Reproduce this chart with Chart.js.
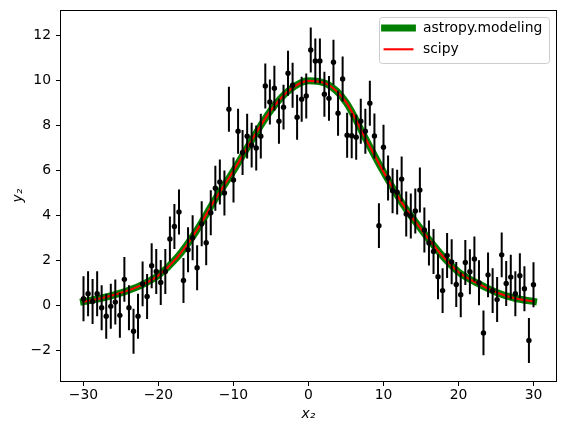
<!DOCTYPE html>
<html lang="en">
<head>
    <meta charset="UTF-8">
    <title>Gaussian fit: astropy.modeling vs scipy</title>
    <script src="https://cdn.jsdelivr.net/npm/chart.js"></script>
    <style>
        body {
            margin: 0;
            background-color: white;
        }
    </style>
</head>
<body>
    <canvas id="fitChart" width="566" height="432"></canvas>

    <script>
        // measured data points (x2, y2), error bar half-height is the same for all
        const xData = [
            -30.00, -29.39, -28.79, -28.18, -27.58, -26.97, -26.36, -25.76, -25.15, -24.55,
            -23.94, -23.33, -22.73, -22.12, -21.52, -20.91, -20.30, -19.70, -19.09, -18.48,
            -17.88, -17.27, -16.67, -16.06, -15.45, -14.85, -14.24, -13.64, -13.03, -12.42,
            -11.82, -11.21, -10.61, -10.00, -9.39, -8.79, -8.18, -7.58, -6.97, -6.36,
            -5.76, -5.15, -4.55, -3.94, -3.33, -2.73, -2.12, -1.52, -0.91, -0.30,
            0.30, 0.91, 1.52, 2.12, 2.73, 3.33, 3.94, 4.55, 5.15, 5.76,
            6.36, 6.97, 7.58, 8.18, 8.79, 9.39, 10.00, 10.61, 11.21, 11.82,
            12.42, 13.03, 13.64, 14.24, 14.85, 15.45, 16.06, 16.67, 17.27, 17.88,
            18.48, 19.09, 19.70, 20.30, 20.91, 21.52, 22.12, 22.73, 23.33, 23.94,
            24.55, 25.15, 25.76, 26.36, 26.97, 27.58, 28.18, 28.79, 29.39, 30.00
        ];
        const yData = [
            0.31, 0.53, 0.19, 0.53, -0.09, -0.47, -0.03, 0.16, -0.43, 1.17,
            -0.09, -1.14, -0.47, 0.97, 0.41, 1.78, 1.52, 1.03, 1.52, 2.97,
            3.52, 4.17, 1.12, 2.49, 3.02, 1.69, 3.64, 2.80, 4.13, 5.22,
            5.50, 5.01, 8.74, 5.59, 7.76, 6.81, 7.54, 7.14, 7.01, 7.54,
            9.77, 9.06, 9.67, 8.20, 8.83, 10.34, 9.80, 8.38, 9.18, 9.33,
            11.37, 10.88, 10.88, 9.40, 9.22, 10.83, 8.56, 10.08, 7.58, 7.56,
            7.49, 8.20, 7.76, 9.00, 7.55, 3.56, 7.05, 5.68, 5.11, 5.05,
            5.63, 4.08, 3.99, 4.21, 5.14, 3.37, 2.79, 2.41, 1.29, 0.67,
            2.23, 1.95, 0.94, 0.49, 1.92, 1.51, 2.08, 1.02, -1.21, 1.37,
            0.67, 0.27, 2.26, 0.99, 1.27, 0.53, 1.33, 0.75, -1.55, 0.93
        ];
        const yErr = 1.0;

        // fitted curves
        const fitX = [-30, -27.5, -25, -22.5, -20, -17.5, -15, -12.5, -10, -7.5, -5, -2.5, 0,
                      2.5, 5, 7.5, 10, 12.5, 15, 17.5, 20, 22.5, 25, 27.5, 30];
        const astropyY = [0.18, 0.34, 0.57, 0.88, 1.35, 2.15, 3.30, 4.70, 6.00, 7.40, 8.70, 9.60, 10.00,
                          9.85, 9.05, 7.50, 5.95, 4.55, 3.40, 2.35, 1.50, 1.00, 0.60, 0.33, 0.19];
        const scipyY = [0.18, 0.34, 0.57, 0.88, 1.35, 2.15, 3.30, 4.70, 6.00, 7.40, 8.70, 9.60, 10.00,
                        9.85, 9.05, 7.50, 5.95, 4.55, 3.40, 2.35, 1.50, 1.00, 0.60, 0.33, 0.19];

        const xTicks = [-30, -20, -10, 0, 10, 20, 30];
        const yTicks = [-2, 0, 2, 4, 6, 8, 10, 12];

        const legendItems = [
            { label: 'astropy.modeling', color: 'green', width: 7 },
            { label: 'scipy', color: 'red', width: 2.1 }
        ];

        const toPoints = (xs, ys) => xs.map((x, i) => ({ x: x, y: ys[i] }));
        const minus = v => String(v).replace('-', '\u2212');

        Chart.defaults.font.family = 'DejaVu Sans';
        Chart.defaults.font.size = 13.9;
        Chart.defaults.color = '#000';

        const errorBars = {
            id: 'errorBars',
            afterDatasetsDraw(chart) {
                const ctx = chart.ctx;
                const xs = chart.scales.x;
                const ys = chart.scales.y;
                const area = chart.chartArea;
                ctx.save();
                ctx.beginPath();
                ctx.rect(area.left, area.top, area.right - area.left, area.bottom - area.top);
                ctx.clip();
                ctx.strokeStyle = '#000';
                ctx.lineWidth = 2;
                ctx.beginPath();
                xData.forEach((x, i) => {
                    const px = xs.getPixelForValue(x);
                    ctx.moveTo(px, ys.getPixelForValue(yData[i] - yErr));
                    ctx.lineTo(px, ys.getPixelForValue(yData[i] + yErr));
                });
                ctx.stroke();
                ctx.restore();
            }
        };

        const frameAndLegend = {
            id: 'frameAndLegend',
            afterDraw(chart) {
                const ctx = chart.ctx;
                const area = chart.chartArea;
                ctx.save();
                ctx.strokeStyle = '#000';
                ctx.lineWidth = 1;
                ctx.strokeRect(area.left - 0.5, area.top + 0.5, area.right - area.left + 1, area.bottom - area.top);

                // legend box, upper right like matplotlib
                const boxW = 170, boxH = 46;
                const bx = area.right - 7 - boxW;
                const by = area.top + 7;
                ctx.beginPath();
                ctx.roundRect(bx + 0.5, by + 0.5, boxW, boxH, 3);
                ctx.fillStyle = 'rgba(255,255,255,0.8)';
                ctx.fill();
                ctx.strokeStyle = '#cccccc';
                ctx.stroke();

                ctx.font = '13.9px "DejaVu Sans"';
                ctx.textBaseline = 'middle';
                ctx.lineCap = 'square';
                legendItems.forEach((item, i) => {
                    const cy = by + 11 + i * 21.3;
                    ctx.beginPath();
                    ctx.strokeStyle = item.color;
                    ctx.lineWidth = item.width;
                    ctx.moveTo(bx + 5.6, cy);
                    ctx.lineTo(bx + 33.4, cy);
                    ctx.stroke();
                    ctx.fillStyle = '#000';
                    ctx.fillText(item.label, bx + 44, cy);
                });
                ctx.restore();
            }
        };

        new Chart(document.getElementById('fitChart'), {
            type: 'scatter',
            data: {
                datasets: [
                    {
                        label: 'data',
                        data: toPoints(xData, yData),
                        backgroundColor: '#000',
                        borderWidth: 0,
                        pointRadius: 2.7,
                        order: 0
                    },
                    {
                        label: 'scipy',
                        data: toPoints(fitX, scipyY),
                        showLine: true,
                        borderColor: 'red',
                        borderWidth: 2.1,
                        borderCapStyle: 'square',
                        cubicInterpolationMode: 'monotone',
                        pointRadius: 0,
                        order: 1
                    },
                    {
                        label: 'astropy.modeling',
                        data: toPoints(fitX, astropyY),
                        showLine: true,
                        borderColor: 'green',
                        borderWidth: 7,
                        borderCapStyle: 'square',
                        cubicInterpolationMode: 'monotone',
                        pointRadius: 0,
                        order: 2
                    }
                ]
            },
            options: {
                responsive: false,
                animation: false,
                layout: { padding: { top: 10, right: 10, left: 0, bottom: 0 } },
                plugins: {
                    legend: { display: false },
                    tooltip: { enabled: false }
                },
                scales: {
                    x: {
                        type: 'linear',
                        min: -33,
                        max: 33,
                        afterBuildTicks: scale => { scale.ticks = xTicks.map(v => ({ value: v })); },
                        afterFit: scale => {
                            scale.height = 51;
                            scale.paddingLeft = 0;
                            scale.paddingRight = 0;
                        },
                        grid: { drawOnChartArea: false, tickLength: 5, color: '#000' },
                        border: { display: false },
                        ticks: { padding: 1, maxRotation: 0, callback: v => minus(v) },
                        title: {
                            display: true,
                            text: 'x\u2082',
                            font: { style: 'italic', size: 13.9 },
                            padding: { top: 4, bottom: 9 }
                        }
                    },
                    y: {
                        type: 'linear',
                        min: -3.35,
                        max: 13.15,
                        afterBuildTicks: scale => { scale.ticks = yTicks.map(v => ({ value: v })); },
                        afterFit: scale => {
                            scale.width = 61;
                            scale.paddingTop = 0;
                            scale.paddingBottom = 0;
                        },
                        grid: { drawOnChartArea: false, tickLength: 5, color: '#000' },
                        border: { display: false },
                        ticks: { padding: 5, callback: v => minus(v) },
                        title: {
                            display: true,
                            text: 'y\u2082',
                            font: { style: 'italic', size: 13.9 },
                            padding: { top: 10, bottom: 4 }
                        }
                    }
                }
            },
            plugins: [errorBars, frameAndLegend]
        });
    </script>
</body>
</html>
